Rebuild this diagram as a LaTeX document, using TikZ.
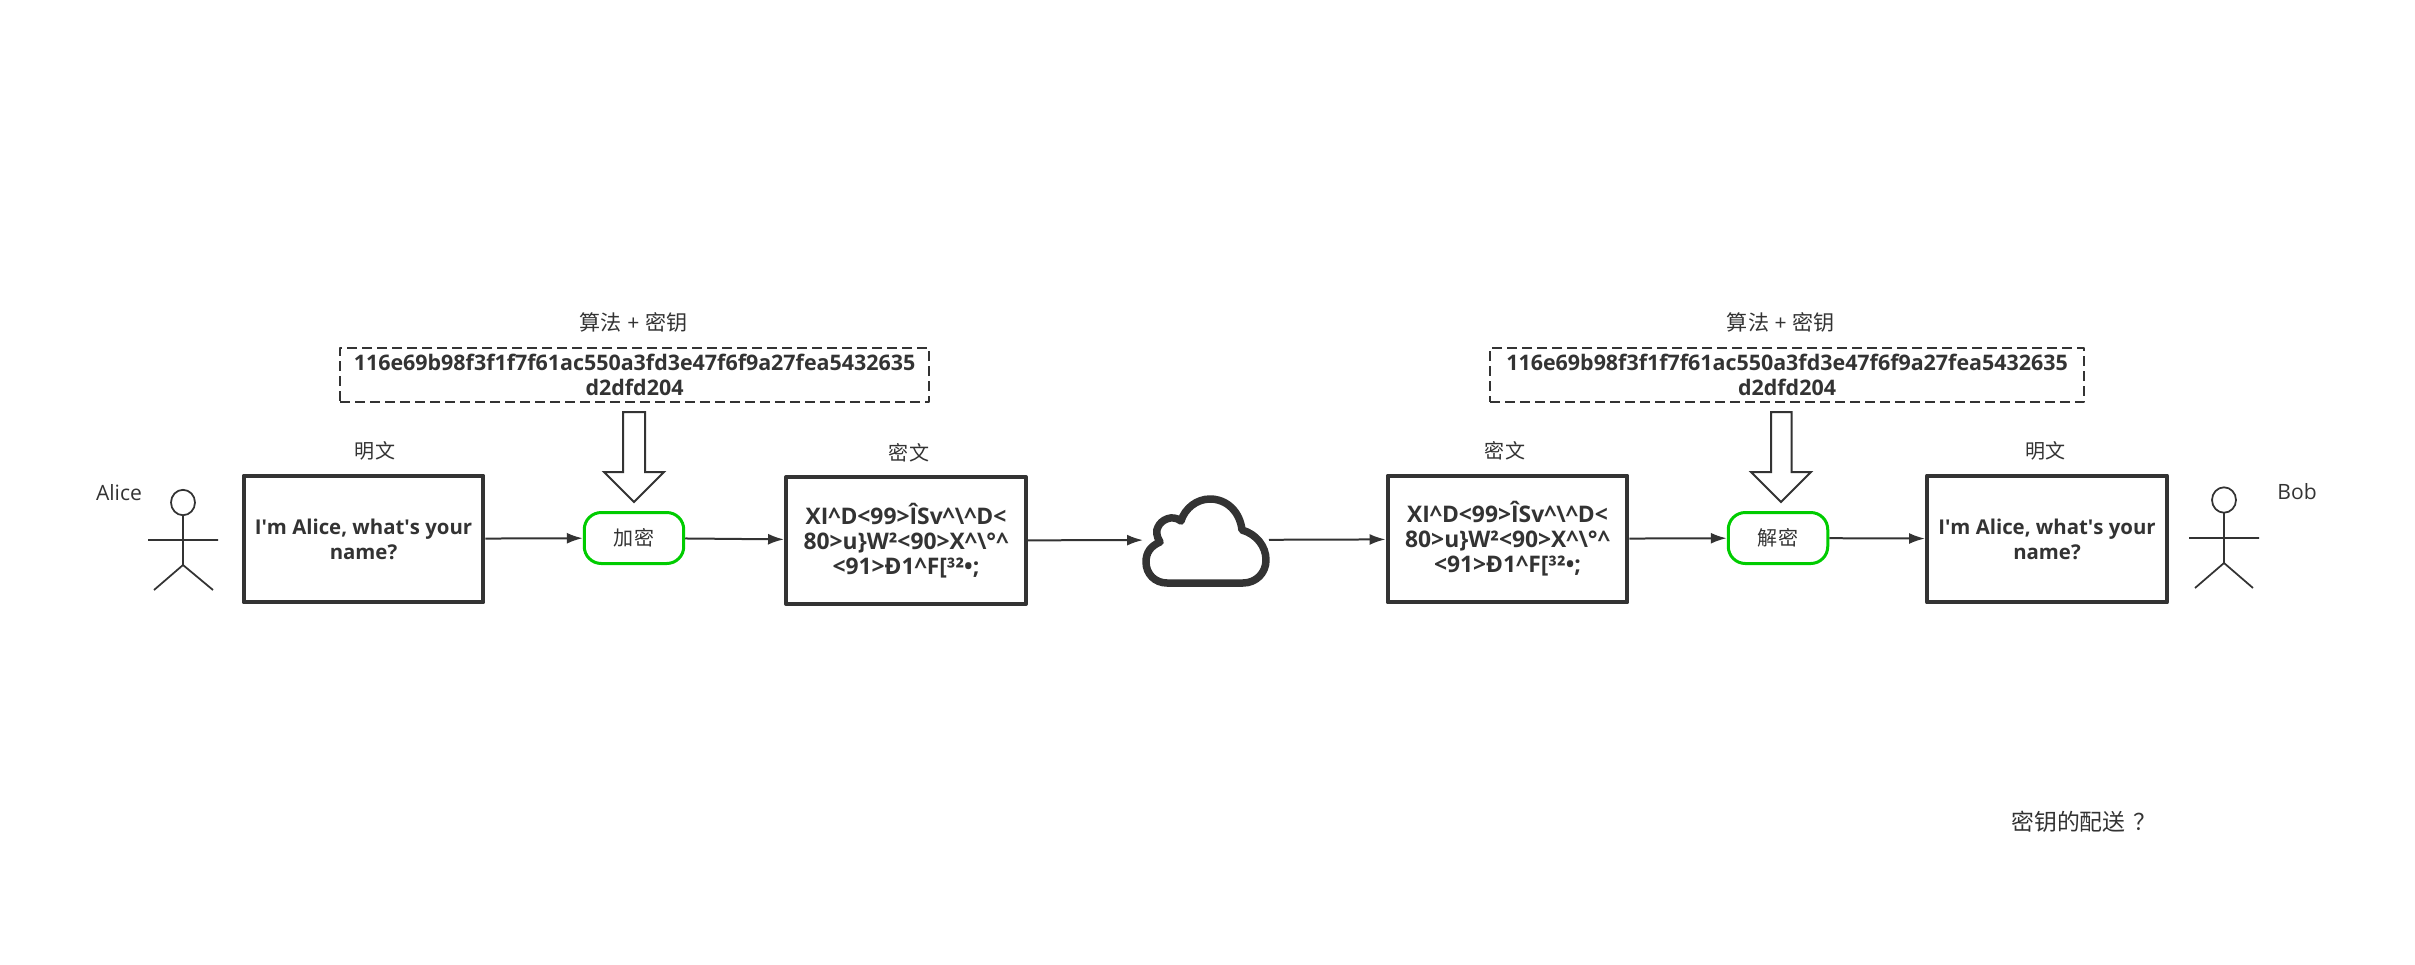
\documentclass[tikz,border=0pt]{standalone}
\usepackage{fontspec}
\usetikzlibrary{arrows.meta}
\setmainfont{Open Sans}
\newfontfamily\cjk{Noto Sans CJK SC}
\definecolor{inkgray}{HTML}{333333}
\definecolor{opgreen}{HTML}{00CC00}
\newcommand{\msgtext}{I\textquotesingle m Alice, what\textquotesingle s your\\name?}
\newcommand{\ciphertext}{XI\textasciicircum D<99>ÎSv\textasciicircum\textbackslash\textasciicircum D<\\80>u\}W²<90>X\textasciicircum\textbackslash °\textasciicircum\\<91>Ð1\textasciicircum F[³²•;}
\newcommand{\keytext}{116e69b98f3f1f7f61ac550a3fd3e47f6f9a27fea5432635\\d2dfd204}
\newcommand{\algotext}{{\cjk 算法} + {\cjk 密钥}}
\tikzset{
  msgbox/.style={draw=inkgray,line width=0.08cm,minimum width=4.8cm,minimum height=2.54cm,inner sep=0pt,align=center,font=\fontsize{11.6}{14.2}\selectfont\bfseries,text=inkgray},
  cipherbox/.style={msgbox,font=\fontsize{13}{14.2}\selectfont\bfseries},
  keybox/.style={draw=inkgray,line width=0.04cm,dash pattern=on 0.2cm off 0.1cm,inner sep=0pt,minimum height=1.08cm,align=center,font=\fontsize{12.2}{14.2}\selectfont\bfseries,text=inkgray},
  opnode/.style={draw=opgreen,line width=0.06cm,rounded corners=0.34cm,minimum height=1.02cm,inner sep=0pt,font=\fontsize{11.4}{14.2}\selectfont\cjk,text=inkgray},
  lbl/.style={font=\fontsize{12}{14.2}\selectfont,text=inkgray,inner sep=0pt},
  flow/.style={draw=inkgray,line width=0.04cm,-{Latex[length=0.32cm,width=0.22cm]}},
  stick/.style={draw=inkgray,line width=0.035cm},
  blockarrow/.style={draw=inkgray,line width=0.04cm,fill=white,line join=miter}
}
\begin{document}
\begin{tikzpicture}[x=0.02cm,y=-0.02cm,line cap=butt,line join=round]
\useasboundingbox (0,0) rectangle (2415,964);
% left side
\node[lbl] (alice) at (119,493) {Alice};
\node[msgbox] (plainL) at (363.5,539) {\msgtext};
\node[lbl,font=\fontsize{11.4}{14.2}\selectfont] (plainLlbl) at (375,450.5) {\cjk 明文};
\node[opnode,minimum width=1.99cm] (enc) at (634,538) {加密};
\node[lbl] (algoL) at (633.5,322) {\algotext};
\node[keybox,minimum width=11.78cm] (keyL) at (634.5,375) {\keytext};
\node[cipherbox] (cipherL) at (906,540.5) {\ciphertext};
\node[lbl,font=\fontsize{11.4}{14.2}\selectfont] (cipherLlbl) at (909,452.5) {\cjk 密文};
% cloud
\node[minimum width=2.52cm,minimum height=1.8cm,inner sep=0pt,outer sep=0pt] (cloud) at (1206,540) {};
% right side
\node[cipherbox] (cipherR) at (1507.5,539) {\ciphertext};
\node[lbl,font=\fontsize{11.4}{14.2}\selectfont] (cipherRlbl) at (1505,450.5) {\cjk 密文};
\node[lbl] (algoR) at (1780.6,322) {\algotext};
\node[keybox,minimum width=11.88cm] (keyR) at (1787,375) {\keytext};
\node[opnode,minimum width=1.99cm] (dec) at (1778,538) {解密};
\node[msgbox] (plainR) at (2047,539) {\msgtext};
\node[lbl,font=\fontsize{11.4}{14.2}\selectfont] (plainRlbl) at (2045.5,450.5) {\cjk 明文};
\node[lbl] (bob) at (2297,492) {Bob};
\node[lbl,font=\fontsize{13}{16}\selectfont\cjk,anchor=west] (question) at (2011,822) {密钥的配送\kern0.35em ？};
% connectors
\draw[flow] (plainL) -- (enc);
\draw[flow] (enc) -- (cipherL);
\draw[flow] (cipherL) -- (cloud);
\draw[flow] (cloud) -- (cipherR);
\draw[flow] (cipherR) -- (dec);
\draw[flow] (dec) -- (plainR);
% block arrows
\draw[blockarrow] (623,412) -- (645,412) -- (645,472) -- (664,472) -- (634,502) -- (604,472) -- (623,472) -- cycle;
\draw[blockarrow] (1771,412) -- (1791.5,412) -- (1791.5,472) -- (1811,472) -- (1781,502) -- (1751,472) -- (1771,472) -- cycle;
% stick figures
\draw[stick] (183,502.5) ellipse [x radius=12,y radius=12.7];
\draw[stick] (183,515) -- (183,565) (148,540) -- (218,540) (154,590) -- (183,565) -- (213,590);
\draw[stick] (2224,500) ellipse [x radius=12,y radius=12.7];
\draw[stick] (2224,513) -- (2224,563) (2189,538) -- (2259,538) (2195,588) -- (2224,563) -- (2253,588);
% cloud outline
\draw[inkgray,line width=0.15cm] (1167,583) .. controls (1155,583) and (1146,574) .. (1146,562) .. controls (1146,552) and (1151,546) .. (1160,542) .. controls (1156,536) and (1156,530) .. (1158,527) .. controls (1161,520) and (1172,514) .. (1181,521) .. controls (1185,508) and (1197,499) .. (1210,499) .. controls (1227,499) and (1240,512) .. (1242,530) .. controls (1256,534) and (1266,546) .. (1266,560) .. controls (1266,573) and (1256,583) .. (1243,583) -- cycle;
\end{tikzpicture}
\end{document}
